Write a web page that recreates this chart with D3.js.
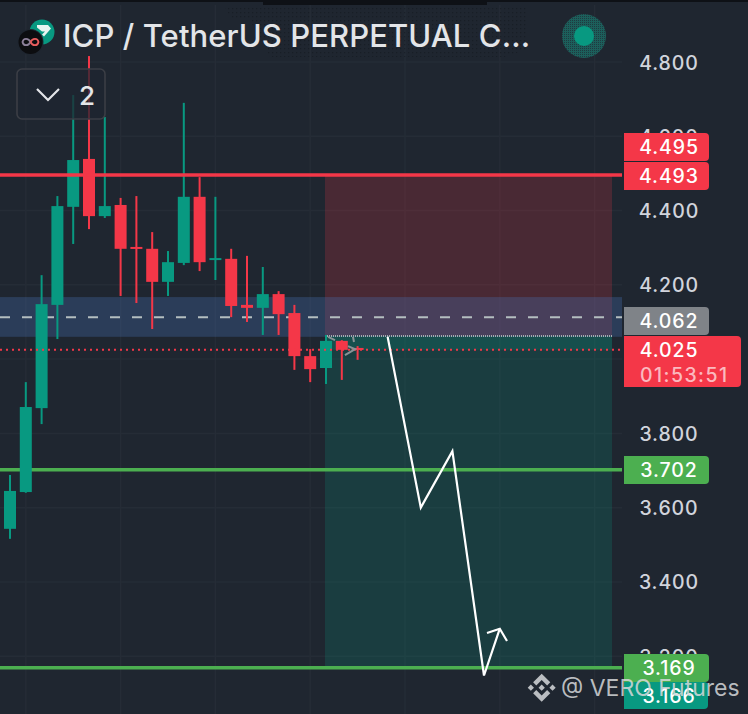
<!DOCTYPE html>
<html><head><meta charset="utf-8">
<script src="https://cdn.jsdelivr.net/npm/d3@7/dist/d3.min.js"></script>
<style>html,body{margin:0;padding:0;background:#1f2630}svg{display:block}text{font-family:Inter,"Noto Sans",sans-serif}</style>
</head><body><svg id="c" width="748" height="714"></svg>
<script>
const title = "ICP / TetherUS PERPETUAL C...";
const indicatorCount = "2";
const watermark = "@ VERO Futures";
const countdown = "01:53:51";
const candleIndex = d3.range(23);
const opens  = [3.543,3.642,3.868,4.146,4.410,4.539,4.385,4.415,4.302,4.297,4.208,4.259,4.437,4.267,4.270,4.146,4.138,4.175,4.124,4.008,3.976,4.049,4.030];
const highs  = [3.688,3.938,4.226,4.439,4.711,4.816,4.652,4.434,4.439,4.342,4.291,4.690,4.490,4.437,4.297,4.278,4.248,4.183,4.146,4.027,4.065,4.051,4.035];
const lows   = [3.516,3.640,3.825,4.054,4.310,4.350,4.380,4.170,4.151,4.081,4.170,4.253,4.237,4.213,4.113,4.100,4.065,4.065,3.971,3.938,3.933,3.944,3.998];
const closes = [3.645,3.871,4.148,4.412,4.536,4.385,4.412,4.297,4.297,4.208,4.261,4.437,4.261,4.272,4.143,4.138,4.175,4.121,4.008,3.973,4.049,4.025,4.025];
const axisTicks = [4.8,4.6,4.4,4.2,4.0,3.8,3.6,3.4,3.2];
const stopTop = 4.493, entryTag = 4.062, dashPrice = 4.113, lastPrice = 4.025, tp1 = 3.702, tp2 = 3.169;
const zoneHigh = 4.167, zoneLow = 4.060, boxEntry = 4.062;
const redTag1 = 4.495, tealTag = 3.166;
const pathBars = [23.9,26,28,30,31];
const pathPrices = [4.060,3.600,3.752,3.148,3.274];
const pencilA = [[20.13,4.060],[20.57,4.051]];
const pencilB = [[21.71,4.060],[21.77,4.046]];
const pencilC = [[21.39,4.035],[21.84,4.027],[21.2,4.011]];

const RED="#f43748", GREEN="#089981", LIME="#4caf50", BG="#1f2630";
const svg=d3.select("#c");
const y=d3.scaleLinear().domain([4.8,3.2]).range([62,656.2]);
const x=d3.scaleLinear().domain([0,22]).range([10,357.6]);
const fx=p=>p.toFixed(3);

const defs=svg.append("defs");
const pd=defs.append("pattern").attr("id","dots").attr("width",4).attr("height",4).attr("patternUnits","userSpaceOnUse");
pd.append("rect").attr("width",1.3).attr("height",1.3).attr("fill","#11151b");
const pr=defs.append("pattern").attr("id","ring").attr("width",2).attr("height",2).attr("patternUnits","userSpaceOnUse");
pr.append("rect").attr("width",2).attr("height",2).attr("fill","#1c5f5b");
pr.append("rect").attr("width",1).attr("height",1).attr("fill","#1f3a40");

svg.append("rect").attr("width",748).attr("height",714).attr("fill",BG);
svg.append("rect").attr("width",748).attr("height",2).attr("fill","#0e1116");
svg.append("rect").attr("x",263).attr("width",224).attr("y",2).attr("height",3).attr("fill","#0e1116");

// grid
const g=svg.append("g").attr("stroke","#252c36").attr("stroke-width",1.5);
axisTicks.forEach(t=>g.append("line").attr("x1",0).attr("x2",622).attr("y1",y(t)).attr("y2",y(t)));
d3.range(1,38,6).forEach(i=>g.append("line").attr("x1",x(i)).attr("x2",x(i)).attr("y1",5).attr("y2",714));

// dither halo behind the title
svg.append("path").attr("d","M225,8H526V50L505,57H270L250,20H232Z").attr("fill","url(#dots)").attr("opacity",.5);

// position boxes
const bx0=325,bx1=612;
svg.append("rect").attr("x",bx0).attr("width",bx1-bx0).attr("y",y(stopTop)).attr("height",y(boxEntry)-y(stopTop)).attr("fill",RED).attr("fill-opacity",.2);
svg.append("rect").attr("x",bx0).attr("width",bx1-bx0).attr("y",y(boxEntry)).attr("height",y(tp2)-y(boxEntry)).attr("fill",GREEN).attr("fill-opacity",.2);
svg.append("rect").attr("x",bx0).attr("width",bx1-bx0).attr("y",y(boxEntry)).attr("height",y(lastPrice)-y(boxEntry)).attr("fill",GREEN).attr("fill-opacity",.2);
// zone
svg.append("rect").attr("x",0).attr("width",622).attr("y",y(zoneHigh)).attr("height",y(zoneLow)-y(zoneHigh)).attr("fill","#466cac").attr("fill-opacity",.33);
svg.append("line").attr("x1",0).attr("x2",622).attr("y1",y(dashPrice)).attr("y2",y(dashPrice)).attr("stroke","#b4bec0").attr("stroke-width",2).attr("stroke-dasharray","10 12");

// lime lines below candles
[tp1,tp2].forEach(p=>svg.append("line").attr("x1",0).attr("x2",622).attr("y1",y(p)).attr("y2",y(p)).attr("stroke",LIME).attr("stroke-width",3.6));

// candles
const cg=svg.append("g");
candleIndex.forEach(i=>{
  const up=closes[i]>=opens[i], col=up?GREEN:RED;
  cg.append("rect").attr("x",x(i)-1).attr("width",2).attr("y",y(highs[i])).attr("height",y(lows[i])-y(highs[i])).attr("fill",col);
  const t=y(Math.max(opens[i],closes[i])), b=y(Math.min(opens[i],closes[i]));
  cg.append("rect").attr("x",x(i)-6).attr("width",12).attr("y",t).attr("height",Math.max(b-t,2)).attr("fill",col);
});

// red lines
svg.append("line").attr("x1",0).attr("x2",622).attr("y1",y(stopTop)-1).attr("y2",y(stopTop)-1).attr("stroke",RED).attr("stroke-width",3.6);
svg.append("line").attr("x1",0).attr("x2",622).attr("y1",y(lastPrice)).attr("y2",y(lastPrice)).attr("stroke",RED).attr("stroke-width",2).attr("stroke-dasharray","2 4");

// grey dotted top of green box and small pencil marks
svg.append("line").attr("x1",327).attr("x2",bx1).attr("y1",y(boxEntry)).attr("y2",y(boxEntry)).attr("stroke","#a5abaf").attr("stroke-width",2).attr("stroke-dasharray","1 1");
const line=d3.line().x(d=>x(d[0])).y(d=>y(d[1]));
[pencilA,pencilB,pencilC].forEach(p=>svg.append("path").attr("d",line(p)).attr("stroke","#8a9296").attr("stroke-width",2).attr("fill","none"));

// white projected path
svg.append("path").attr("d",line(pathBars.map((b,i)=>[b,pathPrices[i]]))).attr("fill","none").attr("stroke","#fff").attr("stroke-width",2.2);
const tip=pathBars.length-1;
svg.append("path").attr("d",`M487,633L${x(pathBars[tip])},${y(pathPrices[tip])}L507,641`).attr("fill","none").attr("stroke","#fff").attr("stroke-width",2.2);

// axis labels
axisTicks.forEach(t=>svg.append("text").attr("x",669).attr("y",y(t)+7.5).attr("text-anchor","middle").attr("font-size",19.5).attr("font-weight",500).attr("fill","#d1d4dc").attr("letter-spacing",.9).text(fx(t)));

// tags
function tag(yTop,h,w,col,txt){
  svg.append("path").attr("d",`M624,${yTop}H${624+w-4}q4,0 4,4V${yTop+h-4}q0,4 -4,4H624Z`).attr("fill",col);
  svg.append("text").attr("x",669).attr("y",yTop+21).attr("text-anchor","middle").attr("font-size",19.5).attr("font-weight",500).attr("fill","#fff").attr("letter-spacing",.9).text(txt);
}
tag(133,28,85,RED,fx(redTag1));
tag(162,28,85,RED,fx(stopTop));
tag(307,28,85,"#7f8388",fx(entryTag));
tag(336,51,117,RED,fx(lastPrice));
svg.append("text").attr("x",640).attr("y",382).attr("font-size",19.5).attr("font-weight",500).attr("fill","#fbb9bf").attr("letter-spacing",1.45).text(countdown);
tag(456,28,85,LIME,fx(tp1));
tag(682,27,84,GREEN,fx(tealTag));
tag(654,28,85,LIME,fx(tp2));

// header icons
svg.append("circle").attr("cx",42).attr("cy",32).attr("r",12.5).attr("fill",GREEN);
svg.append("path").attr("d","M37,25h11l3,3.5l-7,8l-2,-2l3,-3h-3l-5,-4z").attr("fill","#e8f5f1");
svg.append("circle").attr("cx",30.5).attr("cy",42).attr("r",13).attr("fill",BG);
svg.append("circle").attr("cx",30.5).attr("cy",42).attr("r",12).attr("fill","#0c0d10");
svg.append("path").attr("d","M30.5,42c-2,-4 -7,-4.5 -8,0c1,4.5 6,4 8,0").attr("fill","none").attr("stroke","#8b7f98").attr("stroke-width",1.8);
svg.append("path").attr("d","M30.5,42c2,4 7,4.5 8,0c-1,-4.5 -6,-4 -8,0").attr("fill","none").attr("stroke","#e85d5d").attr("stroke-width",1.8);
svg.append("text").attr("x",63).attr("y",47).attr("font-size",31).attr("font-weight",500).attr("letter-spacing",.1).attr("fill","#e3e5e8").text(title);

// status
svg.append("circle").attr("cx",584).attr("cy",36).attr("r",22).attr("fill","url(#ring)");
svg.append("circle").attr("cx",584).attr("cy",36).attr("r",10).attr("fill",GREEN);

// indicator box
svg.append("rect").attr("x",17).attr("y",69).attr("width",88).attr("height",50).attr("rx",5).attr("fill",BG).attr("fill-opacity",.75).attr("stroke","#3b3e45").attr("stroke-width",1.6);
svg.append("path").attr("d","M37,89L48,100L59,89").attr("fill","none").attr("stroke","#e3e5e8").attr("stroke-width",2.2);
svg.append("text").attr("x",87).attr("y",105).attr("text-anchor","middle").attr("font-size",26).attr("font-weight",500).attr("fill","#e3e5e8").text(indicatorCount);

// watermark
svg.append("path").attr("transform","translate(527.7,673.7) scale(.875)").attr("fill","#d6d8da").attr("fill-opacity",.85)
 .attr("d","M9.8 13.4L16 7.2l6.2 6.2 3.6-3.6L16 0 6.2 9.8l3.6 3.6zM0 16l3.6-3.6L7.2 16l-3.6 3.6L0 16zM9.8 18.6L16 24.8l6.2-6.2 3.6 3.6L16 32l-9.8-9.8 3.6-3.6zM24.8 16l3.6-3.6L32 16l-3.6 3.6L24.8 16zM19.6 16L16 12.4 12.4 16 16 19.6 19.6 16z");
svg.append("text").attr("x",561).attr("y",696).attr("font-size",23).attr("fill","#d6d8da").attr("fill-opacity",.85).text(watermark);
</script></body></html>
